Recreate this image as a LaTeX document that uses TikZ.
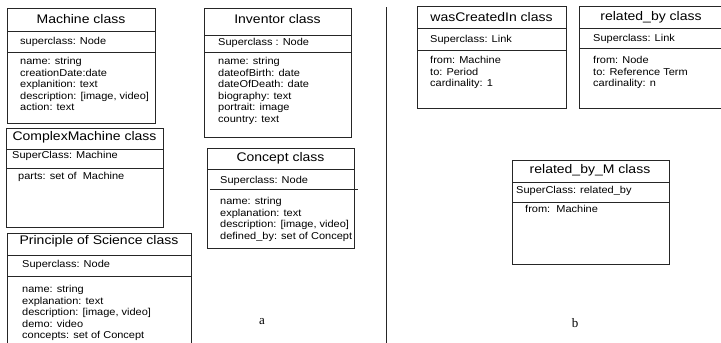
\documentclass[tikz,border=0pt]{standalone}
\usepackage{fontspec}
\setmainfont{Liberation Sans}
\newfontfamily\arialstretch[FakeStretch=1.12]{Liberation Sans}
\newfontfamily\arialbody[FakeStretch=1.1]{Liberation Sans}
\newfontfamily\serifletter{Liberation Serif}
\newcommand{\titlefont}{\arialstretch\fontsize{12.5}{14}\selectfont}
\newcommand{\bodyfont}{\arialbody\fontsize{10}{11.5}\selectfont}
\tikzset{
  box/.style={draw=black!85, line width=0.9pt},
  ttl/.style={font=\titlefont, inner sep=0pt, anchor=center},
  supr/.style={font=\bodyfont, inner sep=0pt, anchor=west},
  bodytxt/.style={font=\bodyfont, inner sep=0pt, anchor=north west, align=left},
  caption/.style={font=\serifletter\fontsize{13}{15}\selectfont, inner sep=0pt},
}
\begin{document}
\begin{tikzpicture}[x=1pt,y=-1pt]
\useasboundingbox (0,0) rectangle (721,343);
% divider
\draw[box] (386,7) -- (386,343);

% Machine class
\draw[box] (7,8) rectangle (155,123);
\draw[box] (7,31) -- (155,31);
\draw[box] (7,52) -- (155,52);
\node[ttl] (mT) at (81,19.5) {Machine class};
\node[supr] (mS) at (20,41.5) {superclass: Node};
\node[bodytxt] (mB) at (20,57.5) {name: string\\creationDate:date\\explanition: text\\description: [image, video]\\action: text};

% ComplexMachine class
\draw[box] (6,128) rectangle (163,227);
\draw[box] (6,149) -- (163,149);
\draw[box] (6,168) -- (163,168);
\node[ttl] (cmT) at (84.5,137.5) {ComplexMachine class};
\node[supr] (cmS) at (12,156) {SuperClass: Machine};
\node[bodytxt] (cmB) at (18,172.5) {parts: set of\ \ Machine};

% Principle of Science class
\draw[box] (7,343) -- (7,233) -- (191,233) -- (191,343);
\draw[box] (7,255) -- (191,255);
\draw[box] (7,276) -- (191,276);
\node[ttl] (pT) at (99,241.5) {Principle of Science class};
\node[supr] (pS) at (22,265) {Superclass: Node};
\node[bodytxt] (pB) at (22,285.5) {name: string\\explanation: text\\description: [image, video]\\demo: video\\concepts: set of Concept};

% Inventor class
\draw[box] (204,8) rectangle (351,137);
\draw[box] (204,35) -- (351,35);
\draw[box] (204,52) -- (351,52);
\node[ttl] (iT) at (277.5,19.5) {Inventor class};
\node[supr] (iS) at (218,42.5) {Superclass : Node};
\node[bodytxt] (iB) at (218,57.5) {name: string\\dateofBirth: date\\dateOfDeath: date\\biography: text\\portrait: image\\country: text};

% Concept class
\draw[box] (207,148) rectangle (354,248);
\draw[box] (207,169) -- (354,169);
\draw[box] (210,189) -- (358,189);
\node[ttl] (coT) at (280.5,158.5) {Concept class};
\node[supr] (coS) at (220,181) {Superclass: Node};
\node[bodytxt] (coB) at (220,197.5) {name: string\\explanation: text\\description: [image, video]\\defined\_by: set of Concept};

% wasCreatedIn class
\draw[box] (417,6) rectangle (566,108);
\draw[box] (417,28) -- (566,28);
\draw[box] (417,50) -- (567,50);
\node[ttl] (wT) at (491.5,17) {wasCreatedIn class};
\node[supr] (wS) at (430,39.5) {Superclass: Link};
\node[bodytxt] (wB) at (430,56.5) {from: Machine\\to: Period\\cardinality: 1};

% related_by class
\draw[box] (723,6) -- (579,6) -- (579,108) -- (723,108);
\draw[box] (579,28) -- (723,28);
\draw[box] (579,48) -- (723,48);
\node[ttl] (rT) at (651,17) {related\_by class};
\node[supr] (rS) at (593,38.5) {Superclass: Link};
\node[bodytxt] (rB) at (593,56.5) {from: Node\\to: Reference Term\\cardinality: n};

% related_by_M class
\draw[box] (512,160) rectangle (669,264);
\draw[box] (512,182) -- (669,182);
\draw[box] (512,202) -- (669,202);
\node[ttl] (rmT) at (590,170.5) {related\_by\_M class};
\node[supr] (rmS) at (516,190.5) {SuperClass: related\_by};
\node[bodytxt] (rmB) at (525,205.5) {from:\ \ Machine};

% captions
\node[caption] (la) at (262,322) {a};
\node[caption] (lb) at (575,323) {b};
\end{tikzpicture}
\end{document}
